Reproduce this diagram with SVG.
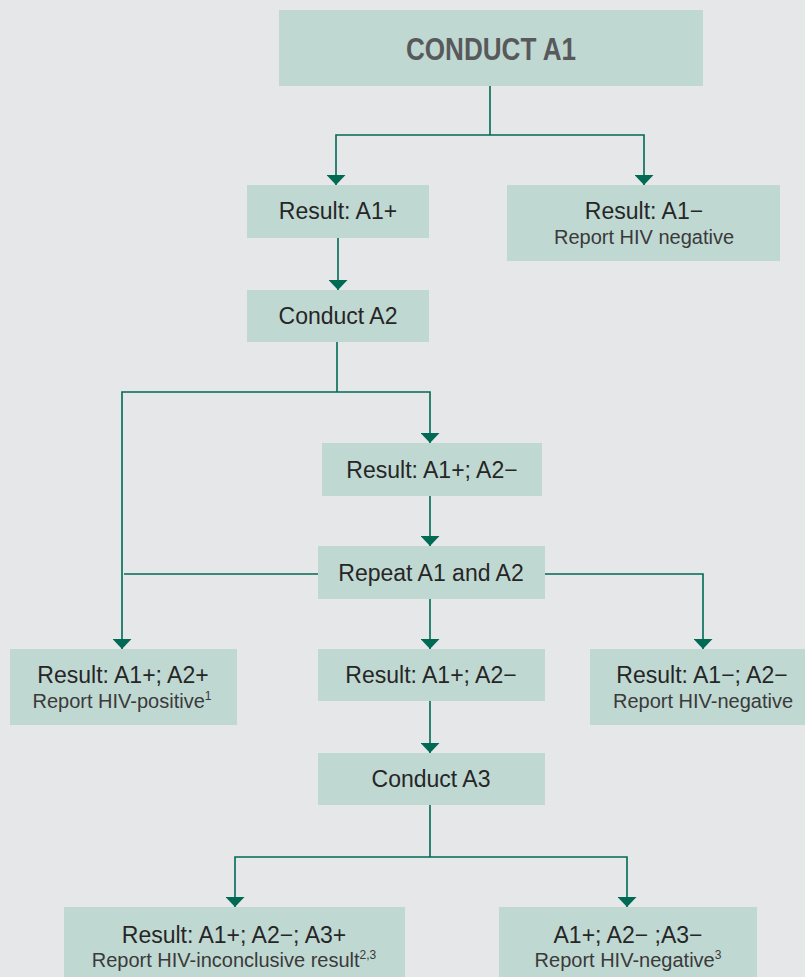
<svg xmlns="http://www.w3.org/2000/svg" width="805" height="977" viewBox="0 0 805 977">
<style>
.box{fill:#c0d8d2}
.t{font-family:"Liberation Sans",Arial,sans-serif;font-size:23px;fill:#262626;text-anchor:middle}
.s{font-family:"Liberation Sans",Arial,sans-serif;font-size:20px;fill:#3a3a3a;text-anchor:middle}
.h{font-family:"Liberation Sans",Arial,sans-serif;font-size:32px;font-weight:bold;fill:#58595b;text-anchor:middle}
.c{fill:none;stroke:#006a55;stroke-width:1.6}
.sup{font-size:12px}
</style>
<defs>
<marker id="arr" markerUnits="userSpaceOnUse" viewBox="0 0 10 19" refX="10" refY="9.5" markerWidth="10" markerHeight="19" orient="auto">
<path d="M0,0 L10,9.5 L0,19 Z" fill="#006a55"/>
</marker>
</defs>
<rect width="805" height="977" fill="#e6e7e9"/>
<g id="connectors">
<path class="c" d="M490,86 V135"/>
<path class="c" d="M490,135 H336 V185" marker-end="url(#arr)"/>
<path class="c" d="M490,135 H644 V185" marker-end="url(#arr)"/>
<path class="c" d="M338,238 V290" marker-end="url(#arr)"/>
<path class="c" d="M337,342 V392"/>
<path class="c" d="M337,392 H430 V443" marker-end="url(#arr)"/>
<path class="c" d="M337,392 H122 V649" marker-end="url(#arr)"/>
<path class="c" d="M430,496 V546" marker-end="url(#arr)"/>
<path class="c" d="M318,574 H124"/>
<path class="c" d="M545,574 H703 V649" marker-end="url(#arr)"/>
<path class="c" d="M430,599 V649" marker-end="url(#arr)"/>
<path class="c" d="M430,701 V753" marker-end="url(#arr)"/>
<path class="c" d="M430,805 V857"/>
<path class="c" d="M430,857 H235 V907" marker-end="url(#arr)"/>
<path class="c" d="M430,857 H627 V907" marker-end="url(#arr)"/>
</g>
<g id="conduct-a1">
<rect class="box" x="279" y="10" width="424" height="76"/>
<text class="h" x="491" y="60" textLength="170" lengthAdjust="spacingAndGlyphs">CONDUCT A1</text>
</g>
<g id="result-a1pos">
<rect class="box" x="247" y="185" width="182" height="53"/>
<text class="t" x="338" y="219">Result: A1+</text>
</g>
<g id="result-a1neg">
<rect class="box" x="507" y="185" width="273" height="76"/>
<text class="t" x="644" y="219">Result: A1−</text>
<text class="s" x="644" y="244">Report HIV negative</text>
</g>
<g id="conduct-a2">
<rect class="box" x="247" y="290" width="182" height="52"/>
<text class="t" x="338" y="324">Conduct A2</text>
</g>
<g id="result-a1pos-a2neg">
<rect class="box" x="322" y="443" width="220" height="53"/>
<text class="t" x="432" y="478">Result: A1+; A2−</text>
</g>
<g id="repeat">
<rect class="box" x="318" y="546" width="227" height="53"/>
<text class="t" x="431" y="581">Repeat A1 and A2</text>
</g>
<g id="result-a1pos-a2pos">
<rect class="box" x="10" y="649" width="227" height="76"/>
<text class="t" x="123" y="683">Result: A1+; A2+</text>
<text class="s" x="122" y="708">Report HIV-positive<tspan class="sup" dy="-8">1</tspan></text>
</g>
<g id="result-a1pos-a2neg-2">
<rect class="box" x="318" y="649" width="227" height="52"/>
<text class="t" x="431" y="683">Result: A1+; A2−</text>
</g>
<g id="result-a1neg-a2neg">
<rect class="box" x="590" y="649" width="225" height="76"/>
<text class="t" x="702" y="683">Result: A1−; A2−</text>
<text class="s" x="703" y="708">Report HIV-negative</text>
</g>
<g id="conduct-a3">
<rect class="box" x="318" y="753" width="227" height="52"/>
<text class="t" x="431" y="787">Conduct A3</text>
</g>
<g id="result-inconclusive">
<rect class="box" x="64" y="907" width="341" height="80"/>
<text class="t" x="234" y="943">Result: A1+; A2−; A3+</text>
<text class="s" x="234" y="967">Report HIV-inconclusive result<tspan class="sup" dy="-8">2,3</tspan></text>
</g>
<g id="result-negative">
<rect class="box" x="499" y="907" width="258" height="80"/>
<text class="t" x="628" y="943">A1+; A2− ;A3−</text>
<text class="s" x="628" y="967">Report HIV-negative<tspan class="sup" dy="-8">3</tspan></text>
</g>
</svg>
